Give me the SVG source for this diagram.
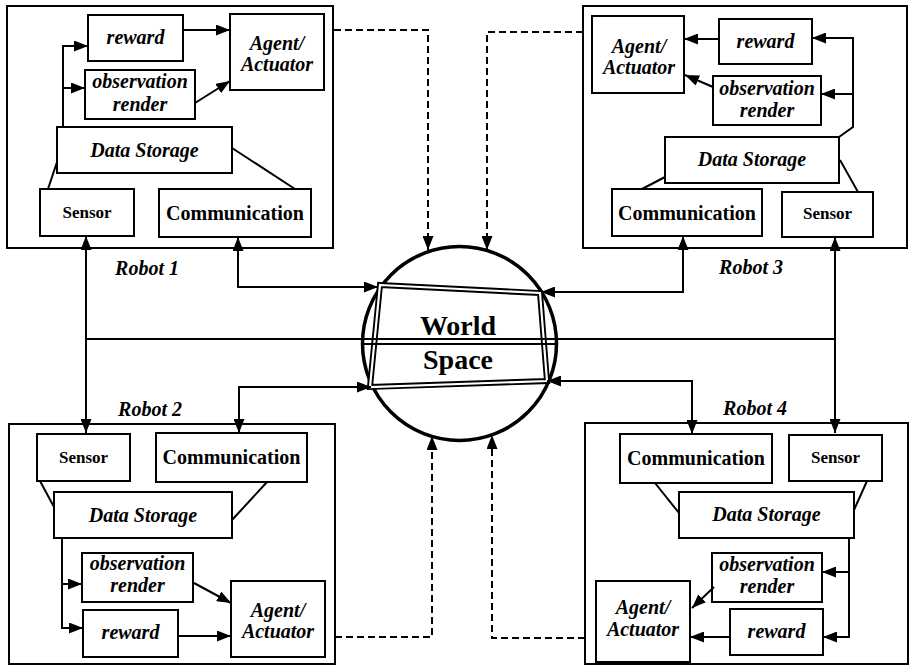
<svg xmlns="http://www.w3.org/2000/svg" width="910" height="666" viewBox="0 0 910 666" font-family="Liberation Serif, DejaVu Serif, serif">
<defs>
<marker id="ah" markerUnits="userSpaceOnUse" markerWidth="14" markerHeight="11" refX="14" refY="5.5" orient="auto-start-reverse"><path d="M0,0 L14,5.5 L0,11 z" fill="#000"/></marker>
<style>
.box{fill:#fff;stroke:#000;stroke-width:2}
.frame{fill:none;stroke:#000;stroke-width:2}
.ln{fill:none;stroke:#000;stroke-width:2}
.a{marker-end:url(#ah)}
.b{marker-start:url(#ah);marker-end:url(#ah)}
.d{stroke-dasharray:7,4}
.t{font-family:'Liberation Serif',serif;font-weight:bold;font-size:20px;text-anchor:middle;fill:#000}
.i{font-style:italic}
.s{font-size:17px}
.w{font-size:28px}
</style>
</defs>
<rect width="910" height="666" fill="#fff"/>

<g id="robot1">
<rect class="frame" x="7" y="6" width="326" height="242"/>
<text class="t i" x="147" y="275">Robot 1</text>
</g>
<g id="r1-reward"><rect class="box" x="88" y="15" width="95" height="46"/><text class="t i" x="135.5" y="44">reward</text></g>
<g id="r1-agent"><rect class="box" x="230" y="14" width="94" height="76"/><text class="t i" x="277" y="50">Agent/</text><text class="t i" x="277" y="71">Actuator</text></g>
<g id="r1-obs"><rect class="box" x="85" y="70" width="110" height="49"/><text class="t i" x="140" y="88">observation</text><text class="t i" x="140" y="111">render</text></g>
<g id="r1-ds"><rect class="box" x="57" y="127" width="175" height="46"/><text class="t i" x="144.5" y="157">Data Storage</text></g>
<g id="r1-sensor"><rect class="box" x="40" y="189" width="94" height="47"/><text class="t s" x="87" y="218">Sensor</text></g>
<g id="r1-comm"><rect class="box" x="159" y="189" width="152" height="48"/><text class="t" x="235" y="220">Communication</text></g>

<g id="robot3">
<rect class="frame" x="583" y="6" width="324" height="242"/>
<text class="t i" x="751" y="274">Robot 3</text>
</g>
<g id="r3-agent"><rect class="box" x="592" y="16" width="92" height="77"/><text class="t i" x="639" y="53">Agent/</text><text class="t i" x="639" y="74">Actuator</text></g>
<g id="r3-reward"><rect class="box" x="719" y="19" width="93" height="45"/><text class="t i" x="765.5" y="48">reward</text></g>
<g id="r3-obs"><rect class="box" x="713" y="76" width="108" height="49"/><text class="t i" x="767" y="95">observation</text><text class="t i" x="767" y="117">render</text></g>
<g id="r3-ds"><rect class="box" x="665" y="137" width="174" height="46"/><text class="t i" x="752" y="166">Data Storage</text></g>
<g id="r3-comm"><rect class="box" x="612" y="189" width="150" height="47"/><text class="t" x="687" y="220">Communication</text></g>
<g id="r3-sensor"><rect class="box" x="782" y="192" width="91" height="45"/><text class="t s" x="827.5" y="219">Sensor</text></g>

<g id="robot2">
<rect class="frame" x="9" y="424" width="326" height="240"/>
<text class="t i" x="150" y="416">Robot 2</text>
</g>
<g id="r2-sensor"><rect class="box" x="37" y="434" width="93" height="47"/><text class="t s" x="83.5" y="463">Sensor</text></g>
<g id="r2-comm"><rect class="box" x="156" y="433" width="151" height="49"/><text class="t" x="231.5" y="464">Communication</text></g>
<g id="r2-ds"><rect class="box" x="54" y="492" width="178" height="46"/><text class="t i" x="143" y="522">Data Storage</text></g>
<g id="r2-obs"><rect class="box" x="82" y="553" width="111" height="49"/><text class="t i" x="137.5" y="570">observation</text><text class="t i" x="137.5" y="592">render</text></g>
<g id="r2-reward"><rect class="box" x="83" y="610" width="95" height="47"/><text class="t i" x="130.5" y="639">reward</text></g>
<g id="r2-agent"><rect class="box" x="231" y="581" width="94" height="76"/><text class="t i" x="278" y="617">Agent/</text><text class="t i" x="278" y="638">Actuator</text></g>

<g id="robot4">
<rect class="frame" x="585" y="423" width="323" height="241"/>
<text class="t i" x="755" y="415">Robot 4</text>
</g>
<g id="r4-comm"><rect class="box" x="620" y="434" width="152" height="49"/><text class="t" x="696" y="465">Communication</text></g>
<g id="r4-sensor"><rect class="box" x="789" y="435" width="93" height="46"/><text class="t s" x="835.5" y="463">Sensor</text></g>
<g id="r4-ds"><rect class="box" x="679" y="492" width="175" height="46"/><text class="t i" x="766.5" y="521">Data Storage</text></g>
<g id="r4-obs"><rect class="box" x="712" y="553" width="110" height="49"/><text class="t i" x="767" y="571">observation</text><text class="t i" x="767" y="593">render</text></g>
<g id="r4-agent"><rect class="box" x="596" y="581" width="94" height="81"/><text class="t i" x="643" y="614">Agent/</text><text class="t i" x="643" y="636">Actuator</text></g>
<g id="r4-reward"><rect class="box" x="730" y="609" width="93" height="46"/><text class="t i" x="776.5" y="638">reward</text></g>

<g id="world">
<circle cx="459.5" cy="343.5" r="97" fill="none" stroke="#000" stroke-width="3.5"/>
<polygon points="380,285 540,293 547,381 370,387" fill="none" stroke="#000" stroke-width="6" stroke-linejoin="miter"/>
<polygon points="380,285 540,293 547,381 370,387" fill="none" stroke="#fff" stroke-width="2.2"/>
<line class="ln" x1="362" y1="344" x2="557" y2="344"/>
<text class="t w" x="458" y="335">World</text>
<text class="t w" x="458" y="369">Space</text>
</g>

<g id="connectors">
<path class="ln a" d="M63,127 V46 H88"/>
<path class="ln a" d="M63,88 H85"/>
<path class="ln a" d="M183,30 H230"/>
<path class="ln a" d="M195,103 L230,81"/>
<path class="ln" d="M48,189 L57,162"/>
<path class="ln" d="M295,189 L232,148"/>

<path class="ln a" d="M839,137 L853,127 V38 H812"/>
<path class="ln a" d="M853,94 H821"/>
<path class="ln a" d="M719,39 H684"/>
<path class="ln a" d="M713,87 L685,75"/>
<path class="ln" d="M642,189 L665,177"/>
<path class="ln" d="M858,192 L840,160"/>

<path class="ln a" d="M62,538 V628 H83"/>
<path class="ln a" d="M62,584 H82"/>
<path class="ln a" d="M194,583 L231,603"/>
<path class="ln a" d="M178,636 H231"/>
<path class="ln" d="M40,481 L54,507"/>
<path class="ln" d="M267,482 L232,520"/>

<path class="ln a" d="M849,538 V637 H823"/>
<path class="ln a" d="M849,572 H822"/>
<path class="ln a" d="M714,587 L692,608"/>
<path class="ln a" d="M730,637 H690"/>
<path class="ln" d="M655,483 L679,513"/>
<path class="ln" d="M867,481 L854,510"/>

<path class="ln b" d="M86,236 V433"/>
<path class="ln b" d="M835,237 V433"/>
<path class="ln" d="M86,339 H836"/>
<path class="ln b" d="M238,237 V287 H378"/>
<path class="ln b" d="M683,236 V292 H541"/>
<path class="ln b" d="M239,433 V387 H371"/>
<path class="ln b" d="M692,434 V381 H547"/>

<path class="ln d a" d="M334,30 H428 V250"/>
<path class="ln d a" d="M583,32 H487 V250"/>
<path class="ln d a" d="M335,637 H432 V436"/>
<path class="ln d a" d="M585,638 H492 V435"/>
</g>
</svg>
